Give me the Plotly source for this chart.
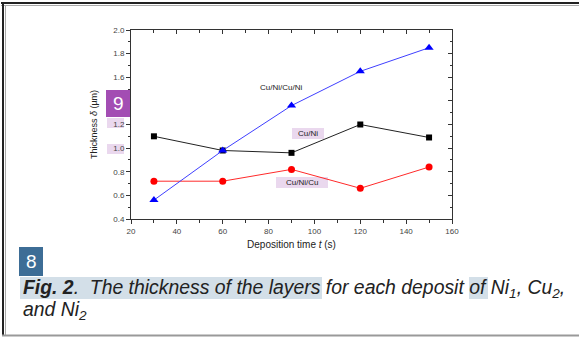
import plotly.graph_objects as go

# ---- data ----
time_s = [30, 60, 90, 120, 150]
cu_ni = [1.10, 0.98, 0.96, 1.20, 1.09]
cu_ni_cu = [0.72, 0.72, 0.82, 0.66, 0.84]
cu_ni_cu_ni = [0.56, 0.98, 1.36, 1.65, 1.85]
series_names = ["Cu/Ni", "Cu/Ni/Cu", "Cu/Ni/Cu/Ni"]
label_pos_x = [97, 94.5, 85.5]
label_pos_y = [1.12, 0.71, 1.51]
x_ticks = [20, 40, 60, 80, 100, 120, 140, 160]
x_minor = [30, 50, 70, 90, 110, 130, 150]
y_ticks = [0.4, 0.6, 0.8, 1.0, 1.2, 1.4, 1.6, 1.8, 2.0]
y_minor = [0.5, 0.7, 0.9, 1.1, 1.3, 1.5, 1.7, 1.9]

W, H = 579, 337
L, R, T, B = 131, 452, 30, 219  # plot area pixels


def px(xp):
    return (xp - L) / (R - L)


def py(yp):
    return (B - yp) / (B - T)


fig = go.Figure()
fig.add_trace(go.Scatter(x=time_s, y=cu_ni, mode="lines+markers", name=series_names[0],
                         line=dict(color="#222222", width=1),
                         marker=dict(symbol="square", size=6, color="#000000")))
fig.add_trace(go.Scatter(x=time_s, y=cu_ni_cu, mode="lines+markers", name=series_names[1],
                         line=dict(color="#ff2a2a", width=1),
                         marker=dict(symbol="circle", size=7, color="#ff0000")))
fig.add_trace(go.Scatter(x=time_s, y=cu_ni_cu_ni, mode="lines+markers", name=series_names[2],
                         line=dict(color="#3f3fff", width=1),
                         marker=dict(symbol="triangle-up", size=8, color="#0000ff")))
# invisible trace to anchor mirrored axes
fig.add_trace(go.Scatter(x=[20], y=[0.4], xaxis="x2", yaxis="y2", mode="markers",
                         marker=dict(opacity=0), showlegend=False, hoverinfo="skip"))

FONT = "Liberation Sans, Arial, sans-serif"
axfont = dict(family=FONT, size=8, color="#444444")
common = dict(showgrid=False, zeroline=False, showline=True, linecolor="#333333", linewidth=1,
              tickcolor="#333333", tickwidth=1)

fig.update_layout(
    width=W, height=H,
    margin=dict(l=L, r=W - R, t=T, b=H - B, pad=0),
    paper_bgcolor="white", plot_bgcolor="white",
    showlegend=False,
    xaxis=dict(range=[20, 160], tickvals=x_ticks,
               ticks="outside", ticklen=4, tickfont=axfont,
               minor=dict(tickvals=x_minor, ticks="outside", ticklen=2.5, tickcolor="#333333"),
               title=dict(text="Deposition time <i>t</i> (s)", standoff=6,
                          font=dict(family=FONT, size=10, color="#222222")),
               **common),
    yaxis=dict(range=[0.4, 2.0], tickvals=y_ticks,
               tickformat=".1f", ticks="outside", ticklen=4, tickfont=axfont,
               minor=dict(tickvals=y_minor, ticks="outside", ticklen=2.5, tickcolor="#333333"),
               title=dict(text="Thickness <i>δ</i> (µm)", standoff=14,
                          font=dict(family=FONT, size=9, color="#222222")),
               **common),
    xaxis2=dict(range=[20, 160], overlaying="x", side="top", showticklabels=False,
                tickvals=x_ticks, ticks="inside", ticklen=4,
                minor=dict(tickvals=x_minor, ticks="inside", ticklen=2.5, tickcolor="#333333"),
                **common),
    yaxis2=dict(range=[0.4, 2.0], overlaying="y", side="right", showticklabels=False,
                tickvals=y_ticks, ticks="inside", ticklen=4,
                minor=dict(tickvals=y_minor, ticks="inside", ticklen=2.5, tickcolor="#333333"),
                **common),
)

shapes = []
# page frame
shapes.append(dict(type="line", xref="paper", yref="paper", x0=px(1), x1=px(579), y0=py(3), y1=py(3),
                   line=dict(color="#222222", width=2)))
shapes.append(dict(type="line", xref="paper", yref="paper", x0=px(1), x1=px(579), y0=py(5.5), y1=py(5.5),
                   line=dict(color="#aaaaaa", width=1)))
shapes.append(dict(type="line", xref="paper", yref="paper", x0=px(3), x1=px(3), y0=py(2), y1=py(336),
                   line=dict(color="#222222", width=2)))
shapes.append(dict(type="line", xref="paper", yref="paper", x0=px(5.5), x1=px(5.5), y0=py(5), y1=py(336),
                   line=dict(color="#aaaaaa", width=1)))
shapes.append(dict(type="line", xref="paper", yref="paper", x0=px(2), x1=px(579), y0=py(335.5), y1=py(335.5),
                   line=dict(color="#999999", width=2)))
# caption highlights
for x0, x1 in [(20, 322), (469, 488)]:
    shapes.append(dict(type="rect", xref="paper", yref="paper", x0=px(x0), x1=px(x1), y0=py(299), y1=py(277),
                       fillcolor="#d3dfe8", line=dict(width=0), layer="below"))
# pink highlights (tick labels and series labels)
for (x0, x1, y0, y1) in [(107, 124, 118, 128), (107, 124, 144, 154), (292, 324, 128, 139), (276, 328, 177, 188)]:
    shapes.append(dict(type="rect", xref="paper", yref="paper", x0=px(x0), x1=px(x1), y0=py(y1), y1=py(y0),
                       fillcolor="#ead8ee", line=dict(width=0), layer="below"))
# badges
shapes.append(dict(type="rect", xref="paper", yref="paper", x0=px(19), x1=px(43), y0=py(276), y1=py(247),
                   fillcolor="#3d6d96", line=dict(width=0), layer="below"))
shapes.append(dict(type="rect", xref="paper", yref="paper", x0=px(106), x1=px(130), y0=py(117), y1=py(90),
                   fillcolor="#a34db3", line=dict(width=0), layer="above"))
fig.update_layout(shapes=shapes)

ann = []
for name, lx, ly in zip(series_names, label_pos_x, label_pos_y):
    ann.append(dict(x=lx, y=ly, xref="x", yref="y", text=name, showarrow=False,
                    font=dict(family=FONT, size=8, color="#222222")))
capfont = dict(family=FONT, size=19.4, color="#222222")
ann.append(dict(x=px(21), y=py(288), xref="paper", yref="paper", xanchor="left", yanchor="middle",
                showarrow=False, font=capfont,
                text="<b><i>Fig. 2</i></b><i>.  The thickness of the layers for each deposit of "
                     "Ni<sub>1</sub>, Cu<sub>2</sub>,</i>"))
ann.append(dict(x=px(21), y=py(310), xref="paper", yref="paper", xanchor="left", yanchor="middle",
                showarrow=False, font=capfont, text="<i>and Ni<sub>2</sub></i>"))
ann.append(dict(x=px(31), y=py(261.5), xref="paper", yref="paper", xanchor="center", yanchor="middle",
                showarrow=False, text="8", font=dict(family=FONT, size=19, color="white")))
ann.append(dict(x=px(118), y=py(103.5), xref="paper", yref="paper", xanchor="center", yanchor="middle",
                showarrow=False, text="9", font=dict(family=FONT, size=19, color="white")))
fig.update_layout(annotations=ann)

fig.write_html("out.html", post_script="document.body.style.margin='0px';",
               config={"displayModeBar": False})
